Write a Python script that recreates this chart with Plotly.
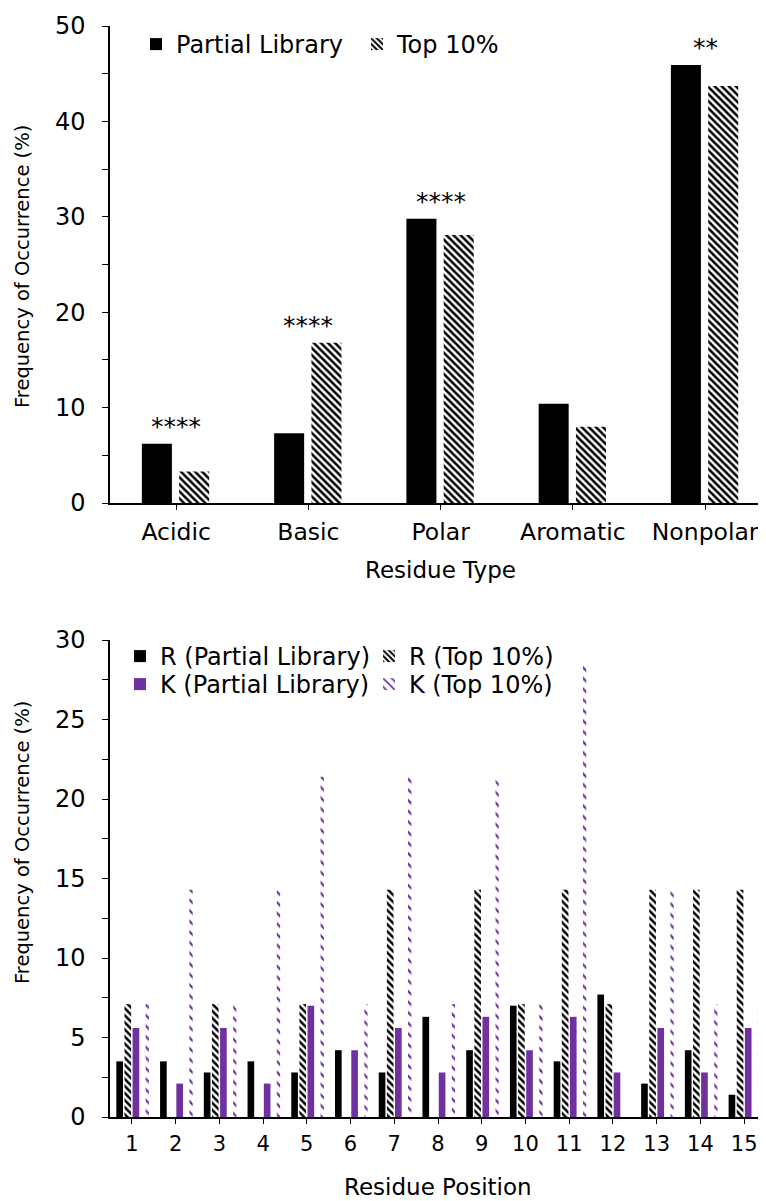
import plotly.graph_objects as go

# ---------------- data ----------------
residue_types = ["Acidic", "Basic", "Polar", "Aromatic", "Nonpolar"]
partial_library = [6.2, 7.3, 29.8, 10.4, 45.9]
top_10 = [3.3, 16.8, 28.1, 8.0, 43.7]
significance = ["****", "****", "****", "", "**"]

positions = list(range(1, 16))
r_partial = [3.5, 3.5, 2.8, 3.5, 2.8, 4.2, 2.8, 6.3, 4.2, 7.0, 3.5, 7.7, 2.1, 4.2, 1.4]
r_top10 = [7.1, 0, 7.1, 0, 7.1, 0, 14.3, 0, 14.3, 7.1, 14.3, 7.1, 14.3, 14.3, 14.3]
k_partial = [5.6, 2.1, 5.6, 2.1, 7.0, 4.2, 5.6, 2.8, 6.3, 4.2, 6.3, 2.8, 5.6, 2.8, 5.6]
k_top10 = [7.1, 14.3, 7.1, 14.3, 21.4, 7.1, 21.4, 7.1, 21.4, 7.1, 28.6, 0, 14.3, 7.1, 7.1]

# ---------------- style / geometry ----------------
BODY = 8                      # default page margin of the html body
W, H = 766 - BODY, 1201 - BODY
ML = 110 - BODY
PW = W - ML
FONT = "DejaVu Sans, Liberation Sans, Arial, sans-serif"
PURPLE = "#7030A0"

def px_x(page_x):
    return (page_x - BODY - ML) / PW

def px_y(page_y):
    return 1 - (page_y - BODY) / H

fig = go.Figure()

hatch = dict(shape="\\", fgcolor="black", fgopacity=1, bgcolor="white", size=5,
             solidity=0.5, fillmode="overlay")

# ---- top chart ----
bw_top = 0.227
fig.add_trace(go.Bar(
    x=residue_types, y=partial_library, name="Partial Library",
    marker=dict(color="black", line=dict(width=0)),
    width=bw_top, offset=-0.259, xaxis="x", yaxis="y", legend="legend"))
fig.add_trace(go.Bar(
    x=residue_types, y=top_10, name="Top 10%",
    marker=dict(color="white", line=dict(width=0), pattern=hatch),
    width=bw_top, offset=0.023, xaxis="x", yaxis="y", legend="legend"))

# ---- bottom chart ----
slot = 0.186
bw_bot = 0.152
def off(k):
    return (k - 2) * slot + (slot - bw_bot) / 2

fig.add_trace(go.Bar(
    x=positions, y=r_partial, name="R (Partial Library)",
    marker=dict(color="black", line=dict(width=0)),
    width=bw_bot, offset=off(0), xaxis="x2", yaxis="y2", legend="legend2"))
fig.add_trace(go.Bar(
    x=positions, y=r_top10, name="R (Top 10%)",
    marker=dict(color="white", line=dict(width=0), pattern=hatch),
    width=bw_bot, offset=off(1), xaxis="x2", yaxis="y2", legend="legend2"))
fig.add_trace(go.Bar(
    x=positions, y=k_partial, name="K (Partial Library)",
    marker=dict(color=PURPLE, line=dict(width=0)),
    width=bw_bot, offset=off(2), xaxis="x2", yaxis="y2", legend="legend3"))
fig.add_trace(go.Bar(
    x=positions, y=k_top10, name="K (Top 10%)",
    marker=dict(color="rgba(255,255,255,0)", line=dict(width=0),
                pattern=dict(shape="\\", fgcolor=PURPLE, fgopacity=1,
                             bgcolor="rgba(255,255,255,0)",
                             size=7.5, solidity=0.3, fillmode="overlay")),
    width=0.075, offset=0.315, xaxis="x2", yaxis="y2", legend="legend3"))

axis_common = dict(showline=True, linecolor="black", linewidth=1.5,
                   showgrid=False, zeroline=False, ticks="outside",
                   tickcolor="black", tickwidth=1.2)

annotations = []
for cat, a, b, s in zip(residue_types, partial_library, top_10, significance):
    if s:
        annotations.append(dict(x=cat, y=max(a, b) + 1.8, xref="x", yref="y",
                                text=s, showarrow=False, xanchor="center",
                                yanchor="middle",
                                font=dict(family=FONT, size=25, color="black")))

title_font = dict(family=FONT, size=23, color="black")
vtitle_font = dict(family=FONT, size=19.5, color="black")
annotations += [
    dict(x=px_x(22), y=px_y(267), xref="paper", yref="paper",
         xanchor="center", yanchor="middle",
         text="Frequency of Occurrence (%)", textangle=-90, showarrow=False,
         font=vtitle_font),
    dict(x=px_x(22), y=px_y(843), xref="paper", yref="paper",
         xanchor="center", yanchor="middle",
         text="Frequency of Occurrence (%)", textangle=-90, showarrow=False,
         font=vtitle_font),
    dict(x=px_x(441), y=px_y(570), xref="paper", yref="paper",
         xanchor="center", yanchor="middle",
         text="Residue Type", showarrow=False, font=title_font),
    dict(x=px_x(438), y=px_y(1187), xref="paper", yref="paper",
         xanchor="center", yanchor="middle",
         text="Residue Position", showarrow=False, font=title_font),
]

legend_common = dict(orientation="h", xanchor="left", yanchor="top",
                     bgcolor="rgba(0,0,0,0)", borderwidth=0,
                     font=dict(family=FONT, size=24, color="black"),
                     traceorder="normal", entrywidthmode="pixels")

fig.update_layout(
    width=W, height=H,
    margin=dict(l=ML, r=0, t=0, b=0, autoexpand=False),
    paper_bgcolor="white", plot_bgcolor="white",
    barmode="overlay",
    font=dict(family=FONT, color="black"),
    xaxis=dict(axis_common, domain=[0, 1], anchor="y", range=[-0.5, 4.46],
               ticklen=5, tickfont=dict(size=23.5), ticklabelstandoff=2),
    yaxis=dict(axis_common, domain=[px_y(503), px_y(26)], anchor="x",
               range=[0, 50], dtick=10, ticklen=6, tickfont=dict(size=24),
               ticklabelstandoff=12,
               minor=dict(dtick=5, ticks="outside", ticklen=6, tickcolor="black")),
    xaxis2=dict(axis_common, domain=[0, 1], anchor="y2", range=[0.5, 15.5],
                tickmode="array", tickvals=positions, ticklen=5,
                tickfont=dict(size=21), ticklabelstandoff=2),
    yaxis2=dict(axis_common, domain=[px_y(1117), px_y(640)], anchor="x2",
                range=[0, 30], dtick=5, ticklen=6, tickfont=dict(size=24),
                ticklabelstandoff=12,
                minor=dict(dtick=2.5, ticks="outside", ticklen=6, tickcolor="black")),
    legend=dict(legend_common, x=px_x(136), y=px_y(22), entrywidth=176),
    legend2=dict(legend_common, x=px_x(120), y=px_y(634), entrywidth=204),
    legend3=dict(legend_common, x=px_x(120), y=px_y(662), entrywidth=204),
    annotations=annotations,
    showlegend=True,
)

fig.write_html("out.html")
